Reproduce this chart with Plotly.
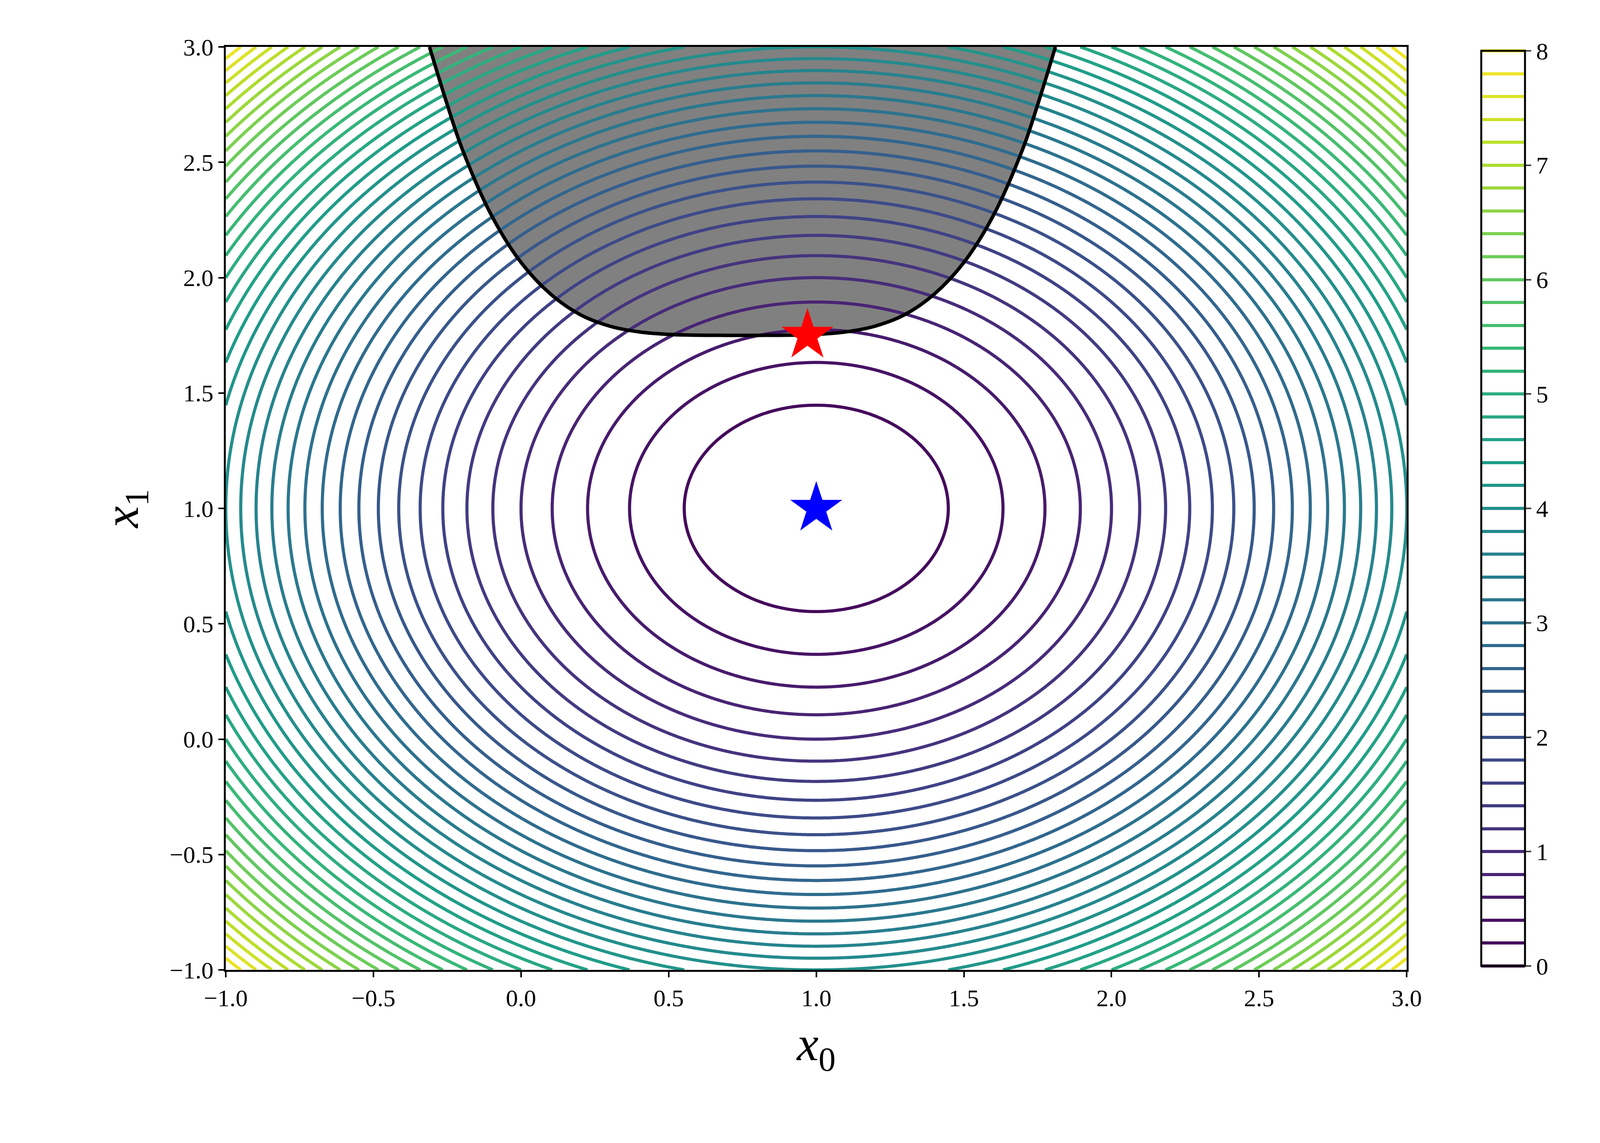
import numpy as np
import plotly.graph_objects as go

# objective grid: f = (x0-1)^2 + (x1-1)^2
x0_vals = np.linspace(-1, 3, 401)
x1_vals = np.linspace(-1, 3, 401)
X0, X1 = np.meshgrid(x0_vals, x1_vals)
Z = (X0 - 1) ** 2 + (X1 - 1) ** 2

# constraint boundary
bound_x = [-0.31, -0.25, -0.2, -0.1, 0.0, 0.1, 0.2, 0.3, 0.4, 0.5, 0.6, 0.7, 0.8,
           0.9, 1.0, 1.1, 1.2, 1.3, 1.4, 1.5, 1.6, 1.7, 1.75, 1.81]
bound_y = [3.0, 2.75, 2.56, 2.27, 2.066, 1.929, 1.84, 1.79, 1.765, 1.754, 1.7505, 1.75, 1.75,
           1.7505, 1.754, 1.765, 1.79, 1.84, 1.929, 2.066, 2.27, 2.56, 2.75, 3.0]

opt_uncon = (1.0, 1.0)
opt_con = (0.97, 1.75)

FONT = "Liberation Serif, DejaVu Serif, serif"

fig = go.Figure()
fig.add_trace(go.Contour(
    x=x0_vals, y=x1_vals, z=Z,
    colorscale="Viridis", zmin=0, zmax=8,
    contours=dict(start=0, end=8, size=0.2, coloring="lines"),
    line=dict(width=8),
    colorbar=dict(x=0.995, xanchor="left", xpad=0, len=1.0, y=0.5,
                  thickness=112, outlinewidth=5, outlinecolor="black",
                  tickvals=list(range(0, 9)), ticks="outside", ticklen=14,
                  tickwidth=4, tickfont=dict(family=FONT, size=62, color="black")),
    hoverinfo="skip", showscale=True,
))
fig.add_trace(go.Scatter(
    x=bound_x, y=bound_y, mode="lines",
    line=dict(color="black", width=9, shape="spline"), showlegend=False,
))
fig.add_trace(go.Scatter(
    x=[opt_uncon[0]], y=[opt_uncon[1]], mode="markers",
    marker=dict(symbol="star", size=100, color="blue", line_width=0), showlegend=False,
))
fig.add_trace(go.Scatter(
    x=[opt_con[0]], y=[opt_con[1]], mode="markers",
    marker=dict(symbol="star", size=100, color="red", line_width=0), showlegend=False,
))

# shaded infeasible region drawn underneath the contour lines
path = "M " + " L ".join(f"{x},{y}" for x, y in zip(bound_x, bound_y)) + " Z"
fig.add_shape(type="path", path=path, xref="x", yref="y", layer="below",
              fillcolor="#808080", line=dict(width=0))

axis_common = dict(showgrid=False, zeroline=False, showline=True, linecolor="black",
                   linewidth=5, mirror=True, ticks="outside", ticklen=14, tickwidth=4,
                   tickcolor="black", tickfont=dict(family=FONT, size=62, color="black"),
                   range=[-1, 3], dtick=0.5, tickformat=".1f")
fig.update_xaxes(**axis_common, title=dict(text="<i>x</i><sub>0</sub>",
                 font=dict(family=FONT, size=125, color="black"), standoff=40),
                 domain=[0, 0.936])
fig.update_yaxes(**axis_common, title=dict(text="<i>x</i><sub>1</sub>",
                 font=dict(family=FONT, size=125, color="black"), standoff=40))

fig.update_layout(
    width=4100, height=2925, plot_bgcolor="white", paper_bgcolor="white",
    margin=dict(l=570, r=300, t=112, b=451), showlegend=False,
)
fig.write_html("out.html")
